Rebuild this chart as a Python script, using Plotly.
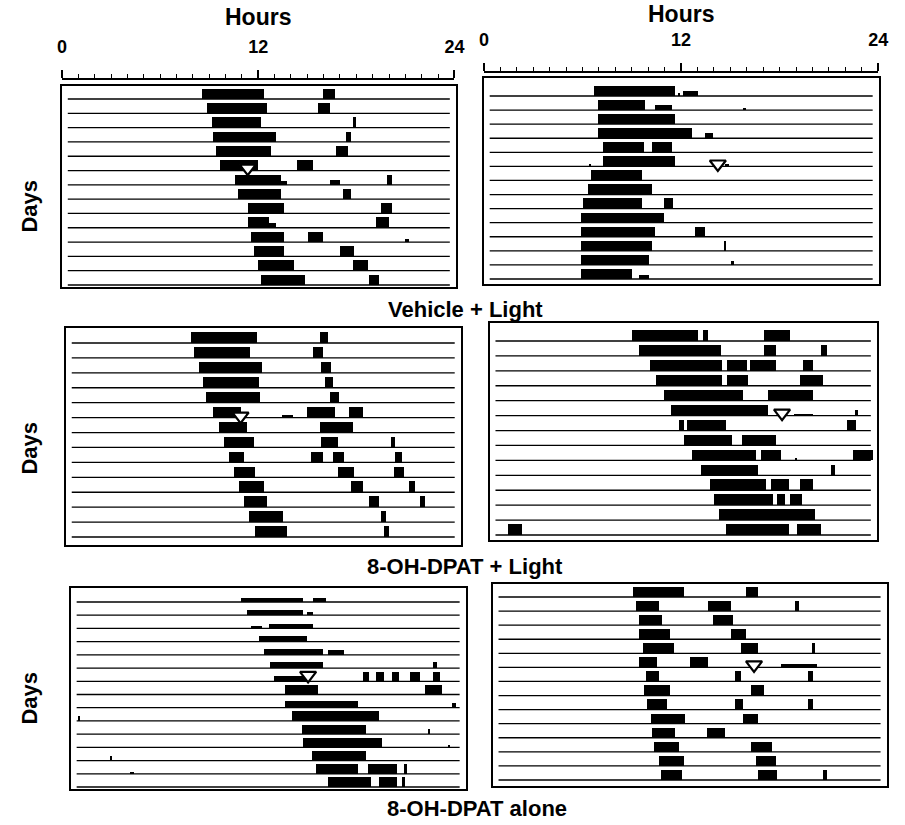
import plotly.graph_objects as go

# ---------------- data: activity bouts (start hour, end hour[, relative height]) per day ----------------
vehicle_light_a = [
    [(8.5, 12.3), (15.9, 16.6)],
    [(8.8, 12.5), (15.6, 16.3)],
    [(9.1, 12.1), (17.7, 17.9)],
    [(9.2, 13.0), (17.3, 17.6)],
    [(9.4, 12.7), (16.7, 17.4)],
    [(9.6, 11.9), (14.3, 15.3)],
    [(10.5, 13.3), (13.3, 13.7, 0.35), (16.3, 16.9, 0.5), (19.8, 20.1)],
    [(10.7, 13.3), (17.1, 17.6)],
    [(11.3, 13.5), (19.4, 20.1)],
    [(11.3, 12.6), (12.6, 13.0, 0.45), (19.1, 19.9)],
    [(11.5, 13.5), (15.0, 15.9), (20.9, 21.1, 0.3)],
    [(11.7, 13.5), (16.9, 17.8)],
    [(11.9, 14.1), (17.7, 18.6)],
    [(12.1, 14.8), (18.7, 19.3)],
]
vehicle_light_b = [
    [(6.7, 11.6), (11.8, 11.9, 0.3), (12.1, 13.0, 0.5)],
    [(6.9, 9.8), (10.4, 11.4, 0.5), (15.75, 15.9, 0.2)],
    [(6.9, 11.6)],
    [(6.9, 12.6), (13.4, 13.9, 0.5)],
    [(7.2, 9.7), (10.2, 11.4)],
    [(6.4, 6.5, 0.2), (7.2, 11.6), (14.6, 14.9, 0.2)],
    [(6.5, 9.6)],
    [(6.3, 10.2)],
    [(6.0, 9.6), (10.9, 11.5)],
    [(5.9, 10.9)],
    [(5.9, 10.4), (12.8, 13.4)],
    [(5.9, 10.2), (14.6, 14.7)],
    [(5.9, 10.0), (15.0, 15.15, 0.35)],
    [(5.9, 9.0), (9.4, 10.0, 0.4)],
]
dpat_light_a = [
    [(7.6, 11.6), (15.4, 15.9)],
    [(7.8, 11.2), (15.0, 15.6)],
    [(8.1, 11.9), (15.5, 16.1)],
    [(8.3, 11.7), (15.7, 16.2)],
    [(8.5, 11.8), (16.0, 16.6)],
    [(8.9, 10.6), (13.1, 13.8, 0.2), (14.6, 16.3), (17.2, 18.0)],
    [(9.3, 11.0), (15.4, 17.4)],
    [(9.6, 11.4), (15.5, 16.5), (19.7, 20.0)],
    [(9.9, 10.8), (14.9, 15.6), (16.2, 16.9), (20.0, 20.4)],
    [(10.2, 11.5), (16.5, 17.5), (19.9, 20.5)],
    [(10.5, 12.0), (17.3, 18.0), (20.8, 21.2)],
    [(10.8, 12.2), (18.4, 19.0), (21.5, 21.8)],
    [(11.1, 13.2), (19.1, 19.4)],
    [(11.5, 13.4), (19.3, 19.6)],
]
dpat_light_b = [
    [(8.8, 12.9), (13.2, 13.5), (17.0, 18.6)],
    [(9.2, 14.3), (17.0, 17.7), (20.5, 20.9)],
    [(9.9, 14.4), (14.7, 15.9), (16.1, 17.7), (19.4, 20.0)],
    [(10.3, 14.4), (14.7, 16.0), (19.2, 20.6)],
    [(10.8, 15.7), (17.2, 20.0)],
    [(11.2, 17.2), (18.8, 20.0, 0.15), (22.6, 22.8, 0.5)],
    [(11.7, 12.0), (12.2, 14.6), (22.1, 22.7)],
    [(12.0, 15.0), (15.6, 17.7)],
    [(12.5, 16.5), (16.8, 18.0), (18.9, 19.0, 0.2), (22.5, 23.7)],
    [(13.1, 16.6), (21.1, 21.4)],
    [(13.6, 17.1), (17.4, 18.5), (19.2, 20.0)],
    [(13.9, 17.5), (17.8, 18.3), (18.6, 19.3)],
    [(14.2, 20.1)],
    [(1.1, 2.0), (14.6, 18.5), (19.0, 20.5)],
]
dpat_alone_a = [
    [(10.3, 14.1, 0.4), (14.7, 15.5, 0.4)],
    [(10.7, 14.1, 0.5), (14.3, 14.7, 0.3)],
    [(10.9, 11.6, 0.3), (12.0, 14.7, 0.5)],
    [(11.4, 14.3, 0.6)],
    [(11.7, 15.3, 0.6), (15.6, 16.6, 0.5)],
    [(12.1, 15.3, 0.6), (22.0, 22.2, 0.6)],
    [(12.3, 14.5, 0.6), (17.7, 18.1), (18.5, 19.0), (19.5, 19.9), (20.6, 21.2), (22.0, 22.4)],
    [(13.0, 15.0), (21.5, 22.5)],
    [(13.0, 17.4, 0.7), (23.1, 23.4, 0.5)],
    [(0.45, 0.55, 0.5), (13.4, 18.7)],
    [(14.0, 17.9), (21.65, 21.8, 0.5)],
    [(14.1, 18.9), (22.9, 23.0, 0.2)],
    [(2.35, 2.5, 0.5), (14.6, 17.9)],
    [(3.6, 3.8, 0.2), (14.9, 17.4), (18.0, 19.8), (20.2, 20.4)],
    [(15.6, 18.2), (18.7, 19.8), (20.1, 20.3)],
]
dpat_alone_b = [
    [(8.5, 11.6), (15.4, 16.1)],
    [(8.7, 10.1), (13.1, 14.5), (18.4, 18.6)],
    [(8.9, 10.3), (13.4, 14.6)],
    [(8.9, 10.8), (14.5, 15.4)],
    [(9.1, 11.0), (15.1, 16.1), (19.4, 19.6)],
    [(8.9, 10.0), (12.0, 13.1), (17.5, 19.7, 0.3)],
    [(9.3, 10.1), (14.7, 15.1), (19.2, 19.5)],
    [(9.2, 10.8), (15.7, 16.5)],
    [(9.4, 10.6), (14.7, 15.2), (19.2, 19.5)],
    [(9.6, 11.7), (15.2, 16.1)],
    [(9.7, 11.1), (13.0, 14.1)],
    [(9.8, 11.3), (15.7, 17.0)],
    [(10.1, 11.6), (16.0, 17.2)],
    [(10.2, 11.5), (16.1, 17.3), (20.1, 20.3)],
]

# light pulse markers: (hour, day-row position)
pulse_vehicle_a = (11.3, 4.83)
pulse_vehicle_b = (14.2, 4.83)
pulse_dpat_a = (10.6, 4.9)
pulse_dpat_b = (18.1, 4.83)
pulse_alone_a = (14.4, 5.55)
pulse_alone_b = (15.9, 4.82)

hour_ticks = list(range(0, 25))
hour_labels = ["0", "12", "24"]
group_titles = ["Vehicle + Light", "8-OH-DPAT + Light", "8-OH-DPAT alone"]

# ---------------- layout geometry (pixels) ----------------
W, H = 905, 825
panels = [
    # data, pulse, box x0, x1, top, bottom, first baseline, last baseline
    (vehicle_light_a, pulse_vehicle_a, 58, 459, 86, 287, 99, 285),
    (vehicle_light_b, pulse_vehicle_b, 487, 889, 78, 284, 96, 279),
    (dpat_light_a, pulse_dpat_a, 62, 464, 328, 545, 343, 537),
    (dpat_light_b, pulse_dpat_b, 493, 887, 323, 540, 341, 535),
    (dpat_alone_a, pulse_alone_a, 67, 469, 588, 789, 602, 787),
    (dpat_alone_b, pulse_alone_b, 496, 897, 584, 786, 597, 780),
]

FONT = "Liberation Sans, Arial, sans-serif"
BAR_H = 0.72

fig = go.Figure()
layout = dict(
    width=W, height=H, margin=dict(l=0, r=0, t=0, b=0),
    paper_bgcolor="white", plot_bgcolor="white",
    showlegend=False, barmode="overlay", bargap=0,
    font=dict(family=FONT, color="black"),
)

for k, (rows, pulse, x0, x1, top, bot, first, last) in enumerate(panels, start=1):
    n = len(rows)
    s = (last - first) / (n - 1)
    ytop = (first - top) / s
    ybot = -(n - 1) - (bot - last) / s
    xa = "x" if k == 1 else f"x{k}"
    ya = "y" if k == 1 else f"y{k}"

    # baselines
    bx, by = [], []
    for i in range(n):
        bx += [0.35, 23.6, None]
        by += [-i, -i, None]
    fig.add_trace(go.Scatter(x=bx, y=by, mode="lines", line=dict(color="black", width=1.3),
                             xaxis=xa, yaxis=ya, hoverinfo="skip"))

    # activity bouts
    cx, wd, base, hh = [], [], [], []
    for i, row in enumerate(rows):
        for b in row:
            st, en = b[0], b[1]
            h = b[2] if len(b) > 2 else 1.0
            cx.append((st + en) / 2)
            wd.append(en - st)
            base.append(-i)
            hh.append(h * BAR_H)
    fig.add_trace(go.Bar(x=cx, y=hh, base=base, width=wd, marker=dict(color="black", line=dict(width=0)),
                         xaxis=xa, yaxis=ya, hoverinfo="skip"))

    # light pulse triangle
    fig.add_trace(go.Scatter(x=[pulse[0]], y=[-pulse[1]], mode="markers",
                             marker=dict(symbol="triangle-down", size=14, color="white",
                                         line=dict(color="black", width=2.2)),
                             xaxis=xa, yaxis=ya, hoverinfo="skip"))

    axkey = "xaxis" if k == 1 else f"xaxis{k}"
    aykey = "yaxis" if k == 1 else f"yaxis{k}"
    layout[axkey] = dict(domain=[x0 / W, x1 / W], anchor=ya, range=[0, 24],
                         showline=True, mirror=True, linecolor="black", linewidth=1.6,
                         showgrid=False, zeroline=False, showticklabels=False, ticks="")
    layout[aykey] = dict(domain=[1 - bot / H, 1 - top / H], anchor=xa, range=[ybot, ytop],
                         showline=True, mirror=True, linecolor="black", linewidth=1.6,
                         showgrid=False, zeroline=False, showticklabels=False, ticks="")

# hour rulers above the top panels
rulers = [(58, 457, 80), (487, 888, 73)]
for j, (rx0, rx1, ry) in enumerate(rulers):
    k = 7 + j
    xa, ya = f"x{k}", f"y{k}"
    fig.add_trace(go.Scatter(x=[0, 24], y=[0, 0], mode="markers", marker=dict(opacity=0),
                             xaxis=xa, yaxis=ya, hoverinfo="skip"))
    layout[f"xaxis{k}"] = dict(domain=[rx0 / W, rx1 / W], anchor=ya, range=[0, 24], side="top",
                               showline=True, linecolor="black", linewidth=1.5,
                               showgrid=False, zeroline=False,
                               tickmode="array", tickvals=[0, 12, 24], ticktext=hour_labels,
                               ticks="outside", ticklen=8, tickwidth=1.5, tickcolor="black",
                               ticklabelstandoff=10,
                               tickfont=dict(family=FONT, size=18, color="black", weight="bold"),
                               minor=dict(tickvals=hour_ticks, ticks="outside", ticklen=4,
                                          tickwidth=1.3, tickcolor="black", showgrid=False))
    layout[f"yaxis{k}"] = dict(domain=[1 - (ry + 1) / H, 1 - ry / H], anchor=xa, visible=False,
                               range=[-1, 1])

ann = []
def add_text(txt, px, py, size, angle=0):
    ann.append(dict(text=f"<b>{txt}</b>", x=px / W, y=1 - py / H, xref="paper", yref="paper",
                    showarrow=False, xanchor="center", yanchor="middle", textangle=angle,
                    font=dict(family=FONT, size=size, color="black")))

add_text("Hours", 257, 17, 23)
add_text("Hours", 687, 14, 23)
for py in (206, 448, 698):
    add_text("Days", 24, py, 22, angle=-90)
add_text(group_titles[0], 468, 309, 22)
add_text(group_titles[1], 468, 566, 22)
add_text(group_titles[2], 480, 808, 22)
layout["annotations"] = ann

fig.update_layout(**layout)
fig.write_html("out.html", config={"displayModeBar": False},
               post_script="document.body.style.margin='0';document.body.style.overflow='hidden';")
